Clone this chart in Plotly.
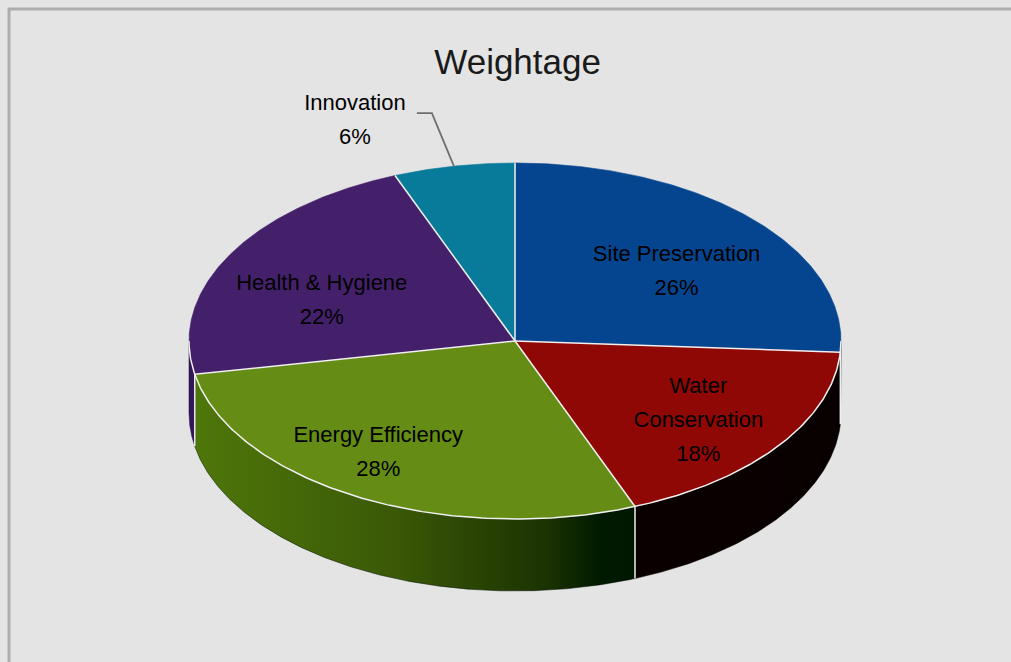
import numpy as np
import plotly.graph_objects as go

# ---------------- data ----------------
categories = ["Site Preservation", "Water Conservation", "Energy Efficiency",
              "Health & Hygiene", "Innovation"]
label_lines = [["Site Preservation"], ["Water", "Conservation"], ["Energy Efficiency"],
               ["Health & Hygiene"], ["Innovation"]]
values = [26, 18, 28, 22, 6]
chart_title = "Weightage"

# ---------------- style ----------------
top_colors = ["#05458f", "#8f0806", "#658c14", "#44206b", "#087a9a"]
# side-wall gradients (stops given as fraction of full pie width, left -> right)
wall_scales = [
    [[0, "#03285a"], [1, "#021a3a"]],
    [[0, "#0e0000"], [1, "#080000"]],
    [[0, "#4f780a"], [0.32, "#3a5806"], [0.55, "#1b3202"], [0.63, "#001a00"], [1, "#000a00"]],
    [[0, "#34175a"], [1, "#1a0b2d"]],
    [[0, "#05506a"], [1, "#033545"]],
]
CX, CY, A, B, DEPTH = 515, 341, 326, 178, 72
LABEL_R = 0.68
label_nudge = [(0, 14), (4, 9), (-30, 6), (1, 19), None]
LINE_GAP = 34
FONT = "Liberation Sans, Arial, sans-serif"
EDGE = "#f0f0f0"
BG = "#e4e4e4"

def ell(t_deg, dy=0.0, r=1.0):
    t = np.radians(t_deg)
    return CX + r * A * np.sin(t), CY - r * B * np.cos(t) + dy

total = float(sum(values))
bounds = np.concatenate([[0], np.cumsum(values)]) / total * 360.0

fig = go.Figure()

# side walls (front half only: 90..270 degrees)
for i, cat in enumerate(categories):
    lo, hi = max(bounds[i], 90), min(bounds[i + 1], 270)
    if lo >= hi:
        continue
    ts = np.linspace(lo, hi, 200)
    xt, yt = ell(ts)
    xb, yb = ell(ts[::-1], dy=DEPTH)
    xs = np.concatenate([xt, xb, xt[:1]])
    ys = np.concatenate([yt, yb, yt[:1]])
    fig.add_trace(go.Scatter(
        x=xs, y=ys, mode="lines", fill="toself",
        line=dict(width=0.5, color=wall_scales[i][-1][1]),
        fillgradient=dict(type="horizontal", colorscale=wall_scales[i],
                          start=CX - A, stop=CX + A),
        hoverinfo="skip", showlegend=False))

# top faces
for i, cat in enumerate(categories):
    ts = np.linspace(bounds[i], bounds[i + 1], 200)
    xa, ya = ell(ts)
    xs = np.concatenate([[CX], xa, [CX]])
    ys = np.concatenate([[CY], ya, [CY]])
    fig.add_trace(go.Scatter(
        x=xs, y=ys, mode="lines", fill="toself", fillcolor=top_colors[i],
        line=dict(width=0.6, color=top_colors[i]),
        name=cat, hoverinfo="name", showlegend=False))

# white edges: radial lines, front rim, vertical wall edges
ex, ey = [], []
for b in bounds[:-1]:
    x, y = ell(b)
    ex += [CX, x, None]
    ey += [CY, y, None]
ts = np.linspace(90, 270, 300)
xr, yr = ell(ts)
ex += list(xr) + [None]
ey += list(yr) + [None]
for b in bounds[1:-1]:
    if 90 < b < 270:
        x, y = ell(b)
        ex += [x, x, None]
        ey += [y, y + DEPTH, None]
fig.add_trace(go.Scatter(x=ex, y=ey, mode="lines", line=dict(color=EDGE, width=1.5),
                         hoverinfo="skip", showlegend=False))

# labels
tx, ty, tt = [], [], []
for i, cat in enumerate(categories):
    mid = (bounds[i] + bounds[i + 1]) / 2
    lines = label_lines[i] + ["%d%%" % round(values[i] / total * 100)]
    if label_nudge[i] is not None:
        x0, y0 = ell(mid, r=LABEL_R)
        x0 += label_nudge[i][0]
        y0 += label_nudge[i][1]
    else:
        # outside label with leader line
        rx, ry = ell(mid)
        elbow = (rx - 22, ry - 53)
        end = (elbow[0] - 15, elbow[1])
        fig.add_trace(go.Scatter(x=[rx, elbow[0], end[0]], y=[ry, elbow[1], end[1]],
                                 mode="lines", line=dict(color="#6f6f6f", width=1.8),
                                 hoverinfo="skip", showlegend=False))
        x0, y0 = end[0] - 62, end[1] + 8
    n = len(lines)
    for k, s in enumerate(lines):
        tx.append(x0)
        ty.append(y0 + (k - (n - 1) / 2) * LINE_GAP)
        tt.append(s)
fig.add_trace(go.Scatter(x=tx, y=ty, mode="text", text=tt,
                         textfont=dict(family=FONT, size=22, color="#000000"),
                         textposition="middle center", hoverinfo="skip", showlegend=False))

fig.update_layout(
    width=1011, height=662,
    margin=dict(l=0, r=0, t=0, b=0),
    paper_bgcolor=BG, plot_bgcolor=BG,
    xaxis=dict(range=[0, 1011], visible=False, fixedrange=True),
    yaxis=dict(range=[662, 0], visible=False, fixedrange=True),
    title=dict(text=chart_title, x=0.512, xanchor="center", y=1 - 62 / 662, yanchor="middle",
               font=dict(family=FONT, size=35, color="#1a1a1a")),
    shapes=[
        dict(type="line", xref="paper", yref="paper", x0=8 / 1011, x1=1, y0=1 - 9 / 662, y1=1 - 9 / 662,
             line=dict(color="#adadad", width=3)),
        dict(type="line", xref="paper", yref="paper", x0=9 / 1011, x1=9 / 1011, y0=0, y1=1 - 8 / 662,
             line=dict(color="#adadad", width=3)),
    ],
)

fig.write_html(
    "out.html",
    config={"displayModeBar": False},
    post_script="document.body.style.margin='0px';document.body.style.overflow='hidden';"
                "document.body.style.background='%s';" % BG,
)
